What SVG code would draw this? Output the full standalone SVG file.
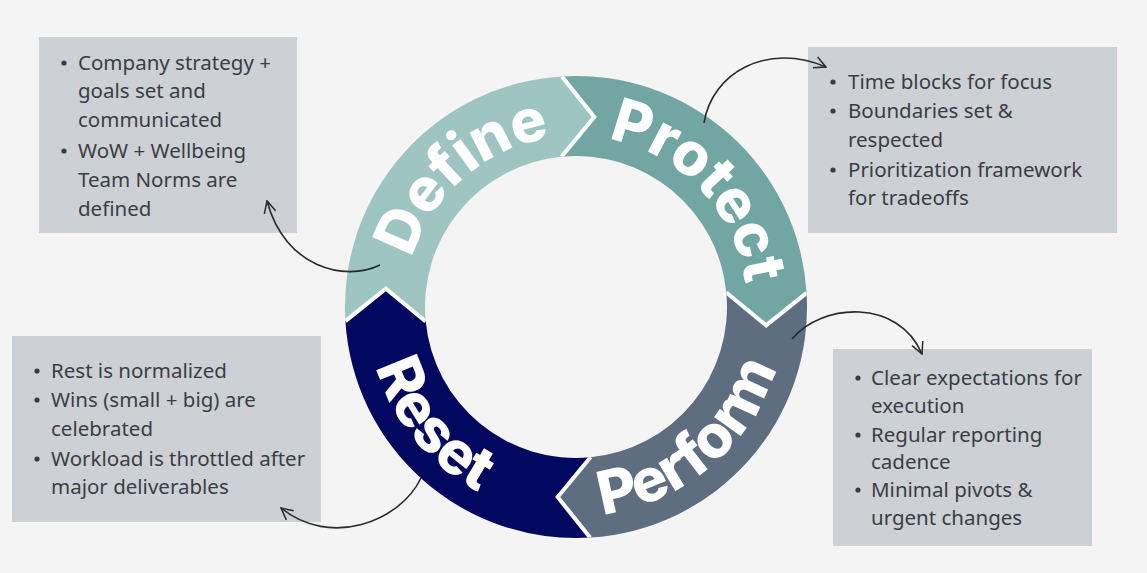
<svg xmlns="http://www.w3.org/2000/svg" width="1147" height="573" viewBox="0 0 1147 573">
<style>
.box{fill:#cdd0d4}
.bt{font-family:"Noto Sans","Liberation Sans",sans-serif;font-size:20.5px;fill:#3a3e44}
.bul{fill:#3a3e44}
.ring{font-family:Inter,"DejaVu Sans",sans-serif;font-weight:800;font-size:60px;letter-spacing:-0.5px;fill:#ffffff}
.sep{fill:none;stroke:#ffffff;stroke-width:4;stroke-linejoin:miter}
.con{fill:none;stroke:#2a2a2a;stroke-width:1.6;marker-end:url(#arr)}
</style>
<defs>
<marker id="arr" viewBox="0 0 12 12" refX="11" refY="6" markerWidth="14" markerHeight="14" markerUnits="userSpaceOnUse" orient="auto">
<path d="M1,1 L11,6 L1,11" fill="none" stroke="#2a2a2a" stroke-width="1.3"/>
</marker>
<path id="cw" d="M576,478 A171,171 0 1 1 576,136 A171,171 0 1 1 576,478"/>
<path id="ccw" d="M576,98 A209,209 0 1 0 576,516 A209,209 0 1 0 576,98"/>
<clipPath id="annulus"><path clip-rule="evenodd" d="M576,76 A231,231 0 1 1 576,538 A231,231 0 1 1 576,76 Z M576,156 A151,151 0 1 0 576,458 A151,151 0 1 0 576,156 Z"/></clipPath>
</defs>
<rect width="1147" height="573" fill="#f4f4f4"/>

<g id="define">
<path fill="#9fc5c3" d="M345.4,321.1 A231,231 0 0 1 561.9,76.4 L594.3,116.9 L561.5,156.7 A151,151 0 0 0 425.7,321.5 L385.9,288.7 Z"/>
<text class="ring"><textPath href="#cw" startOffset="38.58%" text-anchor="middle">Define</textPath></text>
</g>
<g id="protect">
<path fill="#71a6a2" d="M561.9,76.4 A231,231 0 0 1 806.6,292.9 L766.1,325.3 L726.3,292.5 A151,151 0 0 0 561.5,156.7 L594.3,116.9 Z"/>
<text class="ring"><textPath href="#cw" startOffset="62.92%" text-anchor="middle">Protect</textPath></text>
</g>
<g id="perform">
<path fill="#5e6e80" d="M806.6,292.9 A231,231 0 0 1 590.1,537.6 L557.7,497.1 L590.5,457.3 A151,151 0 0 0 726.3,292.5 L766.1,325.3 Z"/>
<text class="ring"><textPath href="#ccw" startOffset="61.14%" text-anchor="middle">Perform</textPath></text>
</g>
<g id="reset">
<path fill="#020760" d="M590.1,537.6 A231,231 0 0 1 345.4,321.1 L385.9,288.7 L425.7,321.5 A151,151 0 0 0 590.5,457.3 L557.7,497.1 Z"/>
<text class="ring"><textPath href="#ccw" startOffset="35.94%" text-anchor="middle">Reset</textPath></text>
</g>
<g id="separators" clip-path="url(#annulus)">
<polyline class="sep" points="561.9,76.4 594.3,116.9 561.5,156.7"/>
<polyline class="sep" points="806.6,292.9 766.1,325.3 726.3,292.5"/>
<polyline class="sep" points="590.1,537.6 557.7,497.1 590.5,457.3"/>
<polyline class="sep" points="345.4,321.1 385.9,288.7 425.7,321.5"/>
</g>

<g id="box-define">
<rect class="box" x="39" y="37" width="258" height="196"/>
<circle class="bul" cx="64" cy="63" r="2.6"/>
<circle class="bul" cx="64" cy="151" r="2.6"/>
<text class="bt"><tspan x="78" y="70">Company strategy +</tspan><tspan x="78" y="98">goals set and</tspan><tspan x="78" y="127">communicated</tspan><tspan x="78" y="158">WoW + Wellbeing</tspan><tspan x="78" y="187">Team Norms are</tspan><tspan x="78" y="216">defined</tspan></text>
</g>
<g id="box-protect">
<rect class="box" x="808" y="47" width="309" height="186"/>
<circle class="bul" cx="833" cy="82" r="2.6"/>
<circle class="bul" cx="833" cy="111" r="2.6"/>
<circle class="bul" cx="833" cy="170" r="2.6"/>
<text class="bt"><tspan x="848" y="89">Time blocks for focus</tspan><tspan x="848" y="118">Boundaries set &amp;</tspan><tspan x="848" y="147">respected</tspan><tspan x="848" y="177">Prioritization framework</tspan><tspan x="848" y="205">for tradeoffs</tspan></text>
</g>
<g id="box-reset">
<rect class="box" x="12" y="336" width="309" height="186"/>
<circle class="bul" cx="37" cy="371" r="2.6"/>
<circle class="bul" cx="37" cy="400" r="2.6"/>
<circle class="bul" cx="37" cy="459" r="2.6"/>
<text class="bt"><tspan x="51" y="378">Rest is normalized</tspan><tspan x="51" y="407">Wins (small + big) are</tspan><tspan x="51" y="436">celebrated</tspan><tspan x="51" y="466">Workload is throttled after</tspan><tspan x="51" y="494">major deliverables</tspan></text>
</g>
<g id="box-perform">
<rect class="box" x="833" y="349" width="259" height="197"/>
<circle class="bul" cx="858" cy="378" r="2.6"/>
<circle class="bul" cx="858" cy="435" r="2.6"/>
<circle class="bul" cx="858" cy="490" r="2.6"/>
<text class="bt"><tspan x="871" y="385">Clear expectations for</tspan><tspan x="871" y="413">execution</tspan><tspan x="871" y="442">Regular reporting</tspan><tspan x="871" y="469">cadence</tspan><tspan x="871" y="497">Minimal pivots &amp;</tspan><tspan x="871" y="525">urgent changes</tspan></text>
</g>

<g id="connectors">
<path class="con" d="M380,265 C345,282 285,268 267,201"/>
<path class="con" d="M704,123 C712,72 768,42 826,67"/>
<path class="con" d="M792,339 C822,303 898,298 922,354"/>
<path class="con" d="M421,478 C400,522 330,548 281,508"/>
</g>
</svg>
